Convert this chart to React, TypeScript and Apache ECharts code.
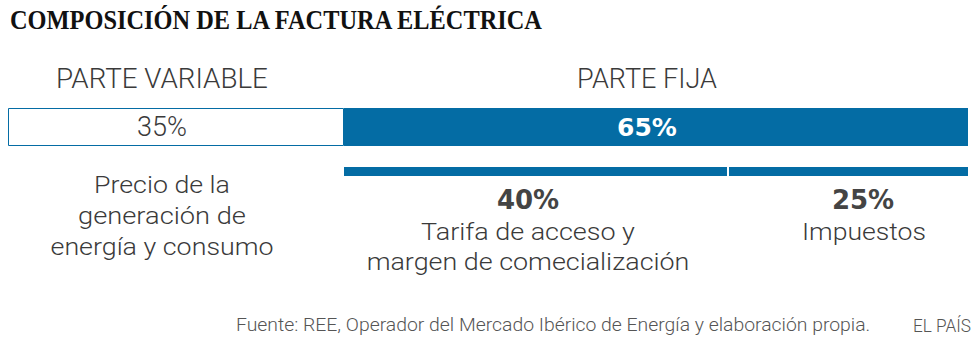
import React, { useEffect, useRef } from "react";
import * as echarts from "echarts";

const title = "COMPOSICIÓN DE LA FACTURA ELÉCTRICA";
const partNames = ["PARTE VARIABLE", "PARTE FIJA"];
const partShares = [35, 65];
const fixedNames = ["Tarifa de acceso y margen de comecialización", "Impuestos"];
const fixedShares = [40, 25];
const variableLines = ["Precio de la", "generación de", "energía y consumo"];
const fixedLines = [["Tarifa de acceso y", "margen de comecialización"], ["Impuestos"]];
const sourceText = "Fuente: REE, Operador del Mercado Ibérico de Energía y elaboración propia.";
const creditText = "EL PAÍS";

const BLUE = "#046ca4";
const INK = "#3a3a3a";
const SANS = "Roboto";
const BOLD_SANS = "DejaVu Sans";

export default function App() {
  const ref = useRef<HTMLDivElement>(null);
  useEffect(() => {
    if (!ref.current) return;
    const chart = echarts.init(ref.current, null, { renderer: "svg" });
    const ctx = document.createElement("canvas").getContext("2d") as CanvasRenderingContext2D;
    const fit = (t: string, size: number, weight: string | number, family: string, target: number) => {
      ctx.font = `${weight} ${size}px "${family}"`;
      const w = ctx.measureText(t).width;
      return w > 0 ? target / w : 1;
    };
    const text = (
      t: string,
      x: number,
      baseline: number,
      size: number,
      weight: string | number,
      family: string,
      color: string,
      align: string,
      target?: number
    ) => ({
      type: "text",
      x,
      y: baseline - 0.34 * size,
      scaleX: target ? fit(t, size, weight, family, target) : 1,
      silent: true,
      style: {
        text: t,
        fontSize: size,
        fontWeight: weight,
        fontFamily: family,
        fill: color,
        align,
        verticalAlign: "middle",
      },
    });

    const varBaselines = [192.3, 223.5, 255];
    const varTargets = [136, 168, 223];
    const fixBaselines = [240, 270];
    const fixTargets = [[214, 323], [124]];
    const fixCenters = [528, 864];

    const graphics: any[] = [
      text(title, 10, 29.3, 28, "bold", "Liberation Serif", "#111111", "left", 535),
      text(partNames[0], 162, 88.3, 27, 300, SANS, INK, "center", 212),
      text(partNames[1], 647, 88.3, 27, 300, SANS, INK, "center", 140),
      ...variableLines.map((l, i) => text(l, 162, varBaselines[i], 24, 300, SANS, INK, "center", varTargets[i])),
      ...fixedLines.flatMap((lines, g) =>
        lines.map((l, i) => text(l, fixCenters[g], fixBaselines[i], 24, 300, SANS, INK, "center", fixTargets[g][i]))
      ),
      text(sourceText, 236, 331.5, 18, 300, SANS, "#555555", "left", 635),
      text(creditText, 913, 331.5, 18, 300, SANS, "#555555", "left", 58),
    ];

    const option: any = {
      animation: false,
      grid: [
        { left: 8, top: 108, width: 960, height: 38 },
        { left: 8, top: 167, width: 960, height: 9 },
      ],
      xAxis: [
        { type: "value", gridIndex: 0, min: 0, max: 100, show: false },
        { type: "value", gridIndex: 1, min: 0, max: 100, show: false },
      ],
      yAxis: [
        { type: "category", gridIndex: 0, data: ["total"], show: false },
        { type: "category", gridIndex: 1, data: ["fija"], show: false },
      ],
      series: [
        {
          type: "bar",
          name: partNames[0],
          xAxisIndex: 0,
          yAxisIndex: 0,
          stack: "main",
          barWidth: 38,
          data: [partShares[0]],
          silent: true,
          itemStyle: { color: "#ffffff", borderColor: BLUE, borderWidth: 1 },
          label: {
            show: true,
            position: "inside",
            formatter: "{c}%",
            fontSize: 27,
            fontWeight: 300,
            fontFamily: SANS,
            color: INK,
            offset: [-14, 0],
          },
        },
        {
          type: "bar",
          name: partNames[1],
          xAxisIndex: 0,
          yAxisIndex: 0,
          stack: "main",
          barWidth: 38,
          data: [partShares[1]],
          silent: true,
          itemStyle: { color: BLUE },
          label: {
            show: true,
            position: "inside",
            formatter: "{c}%",
            fontSize: 25,
            fontWeight: "bold",
            fontFamily: BOLD_SANS,
            color: "#ffffff",
            offset: [-9, 0],
          },
        },
        {
          type: "bar",
          name: "offset",
          xAxisIndex: 1,
          yAxisIndex: 1,
          stack: "fixed",
          barWidth: 9,
          data: [partShares[0]],
          silent: true,
          itemStyle: { color: "rgba(0,0,0,0)" },
        },
        {
          type: "bar",
          name: fixedNames[0],
          xAxisIndex: 1,
          yAxisIndex: 1,
          stack: "fixed",
          barWidth: 9,
          data: [fixedShares[0]],
          silent: true,
          itemStyle: { color: BLUE },
          label: {
            show: true,
            position: "bottom",
            distance: 11,
            formatter: "{c}%",
            fontSize: 26,
            fontWeight: "bold",
            fontFamily: BOLD_SANS,
            color: "#444444",
            offset: [-8, 0],
          },
          markLine: {
            silent: true,
            symbol: "none",
            label: { show: false },
            lineStyle: { color: "#ffffff", width: 2, type: "solid" },
            data: [{ xAxis: partShares[0] + fixedShares[0] }],
          },
        },
        {
          type: "bar",
          name: fixedNames[1],
          xAxisIndex: 1,
          yAxisIndex: 1,
          stack: "fixed",
          barWidth: 9,
          data: [fixedShares[1]],
          silent: true,
          itemStyle: { color: BLUE },
          label: {
            show: true,
            position: "bottom",
            distance: 11,
            formatter: "{c}%",
            fontSize: 26,
            fontWeight: "bold",
            fontFamily: BOLD_SANS,
            color: "#444444",
            offset: [15, 0],
          },
        },
      ],
      graphic: graphics,
    };
    chart.setOption(option);
    return () => chart.dispose();
  }, []);
  return <div ref={ref} style={{ position: "absolute", left: 0, top: 0, width: 980, height: 352 }} />;
}
